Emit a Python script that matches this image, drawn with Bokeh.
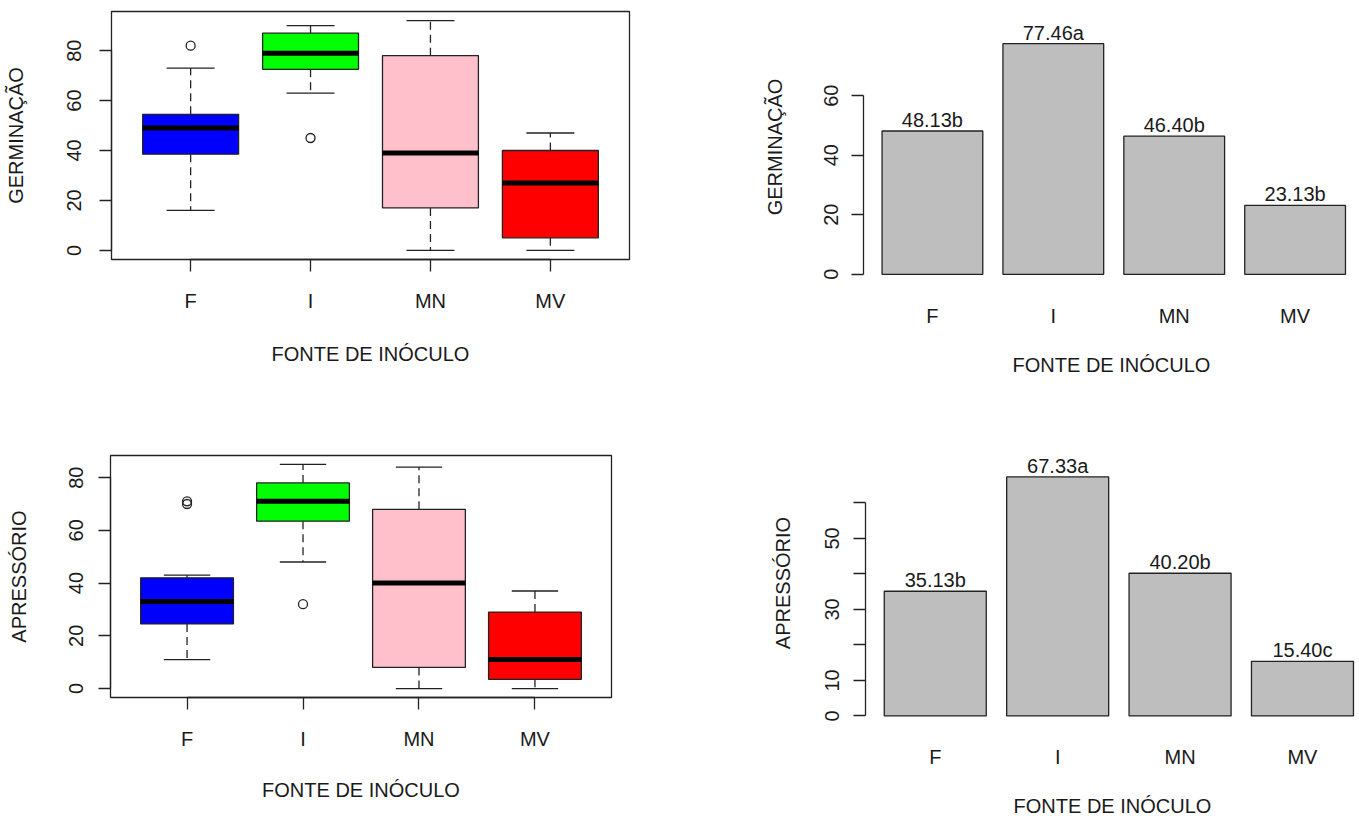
from bokeh.plotting import figure
from bokeh.layouts import column, row
from bokeh.models import ColumnDataSource, FixedTicker, Range1d, LabelSet
from bokeh.core.properties import value
from bokeh.embed import file_html
from bokeh.resources import INLINE

# ---------------- data ----------------
categories = ["F", "I", "MN", "MV"]
box_colors = ["#0000FF", "#00FF00", "#FFC0CB", "#FF0000"]

germ_low = [16, 63, 0, 0]
germ_q1 = [38.5, 72.5, 17, 5]
germ_med = [49, 79, 39, 27]
germ_q3 = [54.5, 87, 78, 40]
germ_high = [73, 90, 92, 47]
germ_out_cat = ["F", "I"]
germ_out_val = [82, 45]

apr_low = [11, 48, 0, 0]
apr_q1 = [24.5, 63.5, 8, 3.5]
apr_med = [33, 71, 40, 11]
apr_q3 = [42, 78, 68, 29]
apr_high = [43, 85, 84, 37]
apr_out_cat = ["F", "F", "I"]
apr_out_val = [70, 71, 32]

germ_means = [48.13, 77.46, 46.40, 23.13]
germ_letters = ["b", "a", "b", "b"]
apr_means = [35.13, 67.33, 40.20, 15.40]
apr_letters = ["b", "a", "b", "c"]

box_ticks = [0, 20, 40, 60, 80]
germ_bar_ticks = [0, 20, 40, 60]
germ_bar_tick_labels = ["0", "20", "40", "60"]
apr_bar_ticks = [0, 10, 20, 30, 40, 50, 60]
apr_bar_tick_labels = ["0", "10", "", "30", "", "50", ""]

XLAB = "FONTE DE INÓCULO"
FONT = "Liberation Sans"
FS = "20px"
TXT = "#1a1a1a"
LC = "#222222"


def style_axis(ax, label, tick_out, std, lab_std):
    ax.axis_label = label
    ax.axis_label_text_font = FONT
    ax.axis_label_text_font_size = FS
    ax.axis_label_text_font_style = "normal"
    ax.axis_label_text_color = TXT
    ax.axis_label_standoff = lab_std
    ax.major_label_text_font = FONT
    ax.major_label_text_font_size = FS
    ax.major_label_text_color = TXT
    ax.major_label_standoff = std
    ax.major_tick_in = 0
    ax.major_tick_out = tick_out
    ax.minor_tick_line_color = None
    ax.axis_line_color = LC
    ax.major_tick_line_color = LC
    ax.axis_line_width = 1.3
    ax.major_tick_line_width = 1.3


def new_fig(width, height, xr, yr, bl, br, bt, bb):
    p = figure(width=width, height=height, x_range=xr, y_range=yr,
               output_backend="svg", toolbar_location=None,
               min_border_left=bl, min_border_right=br,
               min_border_top=bt, min_border_bottom=bb)
    p.title_location = None
    p.xgrid.visible = False
    p.ygrid.visible = False
    p.background_fill_color = "white"
    p.border_fill_color = "white"
    return p


def boxplot(low, q1, med, q3, high, out_cat, out_val, ylabel,
            width, height, bl, br, bt, bb, ystd, ylstd, xstd, xlstd):
    n = len(categories)
    xs = [i + 1 for i in range(n)]
    lo = min(low + out_val)
    hi = max(high + out_val)
    ext = 0.04 * (hi - lo)
    xext = 0.04 * n
    p = new_fig(width, height, Range1d(0.5 - xext, n + 0.5 + xext),
                Range1d(lo - ext, hi + ext), bl, br, bt, bb)
    p.outline_line_color = LC
    p.outline_line_width = 1.3

    src = ColumnDataSource(dict(x=xs, low=low, q1=q1, med=med, q3=q3, high=high,
                                color=box_colors,
                                left=[x - 0.4 for x in xs], right=[x + 0.4 for x in xs],
                                cl=[x - 0.2 for x in xs], cr=[x + 0.2 for x in xs]))
    p.segment(x0="x", y0="q3", x1="x", y1="high", source=src, line_color=LC,
              line_width=1.3, line_dash="8 5")
    p.segment(x0="x", y0="q1", x1="x", y1="low", source=src, line_color=LC,
              line_width=1.3, line_dash="8 5")
    p.segment(x0="cl", y0="high", x1="cr", y1="high", source=src, line_color=LC, line_width=1.3)
    p.segment(x0="cl", y0="low", x1="cr", y1="low", source=src, line_color=LC, line_width=1.3)
    p.quad(left="left", right="right", bottom="q1", top="q3", source=src,
           fill_color="color", line_color=LC, line_width=1.3)
    p.segment(x0="left", y0="med", x1="right", y1="med", source=src, line_color="black", line_width=5)
    ox = [categories.index(c) + 1 for c in out_cat]
    p.scatter(x=ox, y=out_val, marker="circle", size=9, fill_color=None,
              line_color=LC, line_width=1.3)

    ya = p.yaxis[0]
    ya.ticker = FixedTicker(ticks=box_ticks)
    ya.bounds = (box_ticks[0], box_ticks[-1])
    ya.major_label_orientation = "vertical"
    style_axis(ya, ylabel, 12, ystd, ylstd)

    xa = p.xaxis[0]
    xa.ticker = FixedTicker(ticks=xs)
    xa.bounds = (xs[0], xs[-1])
    xa.major_label_overrides = {x: c for x, c in zip(xs, categories)}
    style_axis(xa, XLAB, 12, xstd, xlstd)
    return p


def barplot(means, letters, ylabel, ticks, tick_labels, xend, ytop_extra,
            width, height, bl, br, bt, bb, ystd, ylstd, xstd, xlstd):
    n = len(means)
    lefts = [0.2 + i * 1.2 for i in range(n)]
    centers = [l + 0.5 for l in lefts]
    top = max(means)
    ext = 0.04 * top
    p = new_fig(width, height, Range1d(0.2 - 0.04 * 4.6, xend),
                Range1d(-ext, top + ext + ytop_extra), bl, br, bt, bb)
    p.outline_line_color = None

    labels = ["%.2f%s" % (m, l) for m, l in zip(means, letters)]
    src = ColumnDataSource(dict(x=centers, top=means, label=labels))
    p.vbar(x="x", top="top", bottom=0, width=1, source=src,
           fill_color="#BEBEBE", line_color=LC, line_width=1.3)
    p.add_layout(LabelSet(x="x", y="top", text="label", source=src,
                          text_align="center", text_baseline="bottom", y_offset=0,
                          text_font=value(FONT), text_font_size=value(FS),
                          text_color=TXT))

    ya = p.yaxis[0]
    ya.ticker = FixedTicker(ticks=ticks)
    ya.bounds = (ticks[0], ticks[-1])
    ya.major_label_overrides = {t: s for t, s in zip(ticks, tick_labels)}
    ya.major_label_orientation = "vertical"
    style_axis(ya, ylabel, 12, ystd, ylstd)

    xa = p.xaxis[0]
    xa.ticker = FixedTicker(ticks=centers)
    xa.major_label_overrides = {x: c for x, c in zip(centers, categories)}
    style_axis(xa, XLAB, 0, xstd, xlstd)
    xa.axis_line_color = None
    xa.major_tick_line_color = None
    return p


p1 = boxplot(germ_low, germ_q1, germ_med, germ_q3, germ_high, germ_out_cat, germ_out_val,
             "GERMINAÇÃO", 700, 420, 111, 71, 11, 161, 18, 38, 18, 28)
p2 = barplot(germ_means, germ_letters, "GERMINAÇÃO", germ_bar_ticks, germ_bar_tick_labels,
             0.016 + 496 / 100.75, 24 / 2.977,
             659, 420, 163, 0, 10, 137, 13, 36, 21, 24)
p3 = boxplot(apr_low, apr_q1, apr_med, apr_q3, apr_high, apr_out_cat, apr_out_val,
             "APRESSÓRIO", 700, 399, 110, 89, 35, 122, 15, 37, 18, 26)
p4 = barplot(apr_means, apr_letters, "APRESSÓRIO", apr_bar_ticks, apr_bar_tick_labels,
             0.016 + 494 / 102.0, 27 / 3.562,
             659, 399, 165, 0, 20, 93, 14, 29, 20, 24)

layout = column(row(column(p1), column(p2)), row(column(p3), column(p4)))
open("out.html", "w").write(file_html(layout, INLINE))
